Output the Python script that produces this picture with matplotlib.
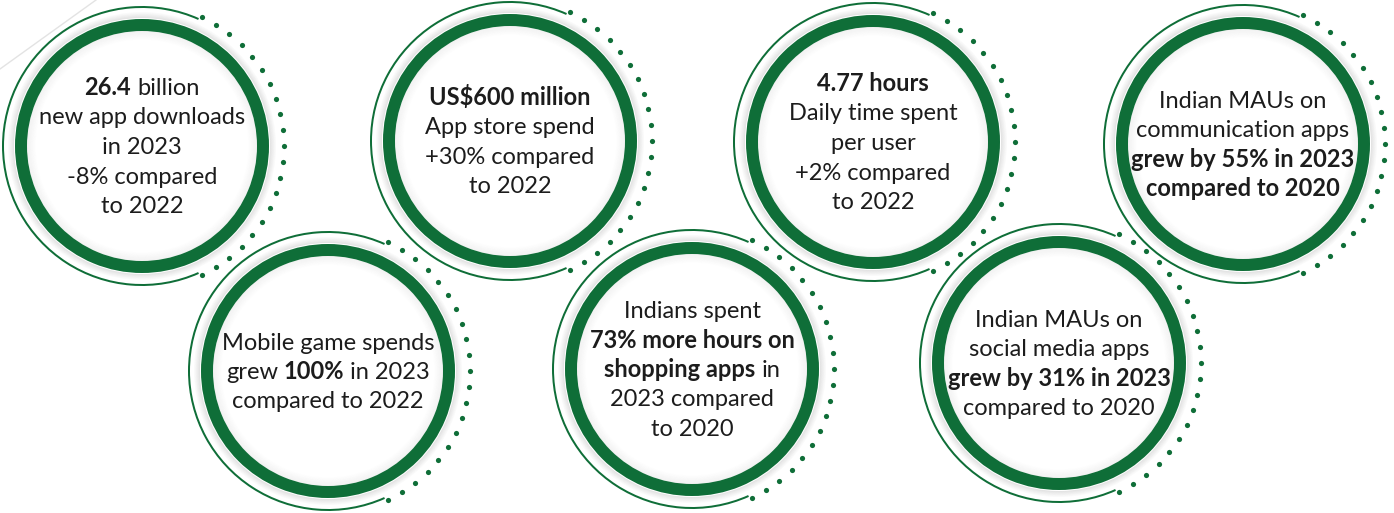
import matplotlib
matplotlib.use("Agg")
import matplotlib.pyplot as plt
from matplotlib.patches import Wedge, Circle
import numpy as np

plt.rcParams['font.family'] = ['Lato', 'DejaVu Sans']

# each stat: lines of (text, bold) segments
stat_texts = [
    [[("26.4", True), (" billion", False)],
     [("new app downloads", False)],
     [("in 2023", False)],
     [("-8% compared", False)],
     [("to 2022", False)]],
    [[("Mobile game spends", False)],
     [("grew ", False), ("100%", True), (" in 2023", False)],
     [("compared to 2022", False)]],
    [[("US$600 million", True)],
     [("App store spend", False)],
     [("+30% compared", False)],
     [("to 2022", False)]],
    [[("Indians spent", False)],
     [("73% more hours on", True)],
     [("shopping apps", True), (" in", False)],
     [("2023 compared", False)],
     [("to 2020", False)]],
    [[("4.77 hours", True)],
     [("Daily time spent", False)],
     [("per user", False)],
     [("+2% compared", False)],
     [("to 2022", False)]],
    [[("Indian MAUs on", False)],
     [("social media apps", False)],
     [("grew by 31% in 2023", True)],
     [("compared to 2020", False)]],
    [[("Indian MAUs on", False)],
     [("communication apps", False)],
     [("grew by 55% in 2023", True)],
     [("compared to 2020", True)]],
]

# layout (pixels)
centers = [(142, 146), (328, 371), (510, 141), (692, 369),
           (873, 142), (1059, 363), (1243, 144)]
R = 127
green = '#0f6e38'
txt_color = '#1c1c1c'
fs = 17
line_h = 29.5

fig = plt.figure(figsize=(13.94, 5.13), dpi=100)
ax = fig.add_axes([0, 0, 1, 1])
ax.set_xlim(0, 1394)
ax.set_ylim(513, 0)
ax.set_aspect('equal')
ax.axis('off')

# faint background line
ax.plot([0, 96], [69, 0], color='#e3e3e3', lw=1)

for (cx, cy) in centers:
    # soft shadow around the thick ring
    for k in range(6):
        ax.add_patch(Wedge((cx, cy), R + 7 - k, 0, 360, width=1,
                           color='black', alpha=0.018 * (k + 1), lw=0))
    ax.add_patch(Circle((cx, cy), R - 12, color='white', lw=0))
    for k in range(9):
        ax.add_patch(Wedge((cx, cy), R - 12 - k, 0, 360, width=1,
                           color='black', alpha=0.05 * (1 - k / 9), lw=0))
    # thick ring
    ax.add_patch(Wedge((cx, cy), R, 0, 360, width=12, color=green, lw=0))
    # thin outer arc on the left
    ax.add_patch(Wedge((cx, cy), 140, 66, 294, width=2, color=green, lw=0))
    # dotted arc on the right
    ang = np.radians(np.linspace(-65, 65, 21))
    ax.scatter(cx + 142 * np.cos(ang), cy + 142 * np.sin(ang), s=14,
               color=green, lw=0, zorder=3)

fig.canvas.draw()
renderer = fig.canvas.get_renderer()


def text_width(s, bold):
    t = ax.text(0, 0, s, fontsize=fs, fontweight='bold' if bold else 'normal')
    w = t.get_window_extent(renderer).width
    t.remove()
    return w


space_w = text_width("a a", False) - text_width("aa", False)

for (cx, cy), lines in zip(centers, stat_texts):
    n = len(lines)
    for i, segs in enumerate(lines):
        yc = cy + (i - (n - 1) / 2) * line_h
        parts = []
        total = 0
        for s, b in segs:
            lead = len(s) - len(s.lstrip(' '))
            trail = len(s) - len(s.rstrip(' '))
            core = s.strip(' ')
            w = text_width(core, b)
            parts.append((core, b, lead * space_w, w, trail * space_w))
            total += lead * space_w + w + trail * space_w
        x = cx - total / 2
        for core, b, lw_, w, tw in parts:
            x += lw_
            ax.text(x, yc + 8, core, fontsize=fs, color=txt_color,
                    fontweight='bold' if b else 'normal',
                    ha='left', va='baseline')
            x += w + tw

fig.savefig('out.png', dpi=100)
